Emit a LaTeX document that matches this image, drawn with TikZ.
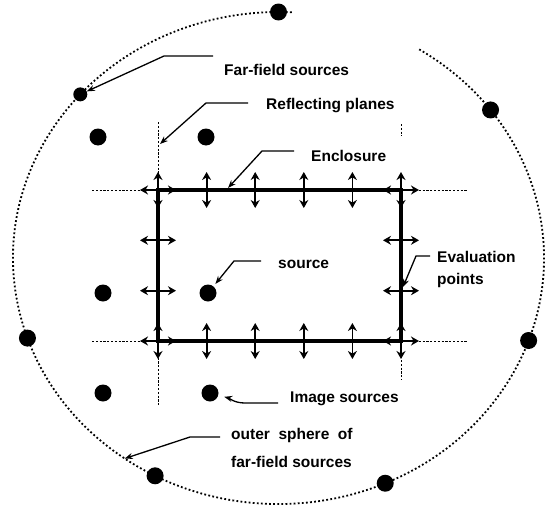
\documentclass[tikz,border=0pt]{standalone}
\usepackage{fontspec}
\setmainfont{Liberation Sans}
\usetikzlibrary{positioning,arrows.meta,calc}

\begin{document}
\begin{tikzpicture}[x=1pt, y=-1pt,
    font=\bfseries\fontsize{15.5}{22}\selectfont,
    fuente/.style={circle, fill=black, inner sep=0pt, minimum size=17pt},
    esfera/.style={line width=1.8pt, dash pattern=on 1.8pt off 2.3pt},
    plano/.style={line width=0.9pt, dash pattern=on 2.2pt off 1.6pt},
    recinto/.style={line width=3.2pt},
    flecha/.style={line width=1.8pt, {Stealth[length=8pt,width=9pt]}-{Stealth[length=8pt,width=9pt]}},
    guia/.style={line width=1.3pt, -{Stealth[length=8pt,width=6pt]}},
    etiqueta/.style={anchor=west, inner sep=0pt, align=left}]
  \useasboundingbox (0,0) rectangle (549,506);
  % esfera exterior con las fuentes lejanas
  \coordinate (c) at (278.5,258);
  \draw[esfera] ($(c)+(302:265.5 and 246)$)
    arc[start angle=302, end angle=633, x radius=265.5, y radius=246];
  \node[fuente] (ff1) at ($(c)+(270:265.5 and 246)$) {};
  \node[fuente, minimum size=14pt] (ff2) at ($(c)+(221.7:265.5 and 246)$) {};
  \node[fuente] (ff3) at ($(c)+(323:265.5 and 246)$) {};
  \node[fuente] (ff4) at ($(c)+(161:265.5 and 246)$) {};
  \node[fuente] (ff5) at ($(c)+(19.6:265.5 and 246)$) {};
  \node[fuente] (ff6) at ($(c)+(117.7:265.5 and 246)$) {};
  \node[fuente] (ff7) at ($(c)+(66.3:265.5 and 246)$) {};
  \coordinate (pesf) at ($(c)+(125.4:265.5 and 246)$);
  % planos reflectantes
  \draw[plano] (92,190) -- (467,190);
  \draw[plano] (92,341) -- (467,341);
  \draw[plano] (158,122) -- (158,405);
  \draw[plano] (401,124) -- (401,136);
  \draw[plano] (401,341) -- (401,380);
  % recinto y puntos de evaluacion
  \draw[recinto] (158,190) rectangle (401,341);
  \foreach \x/\y in {158/190, 401/190, 158/341, 401/341}{
    \draw[flecha] (\x-18,\y) -- (\x+18,\y);
    \draw[flecha] (\x,\y-18) -- (\x,\y+18);
  }
  \foreach \x in {206.6, 255.2, 303.8, 352.4}{
    \draw[flecha] (\x,172) -- (\x,208);
    \draw[flecha] (\x,323) -- (\x,359);
  }
  \foreach \y in {240.3, 290.7}{
    \draw[flecha] (140,\y) -- (176,\y);
    \draw[flecha] (383,\y) -- (419,\y);
  }
  \coordinate (ppl) at (160,144);
  \coordinate (penc) at (228,188);
  \coordinate (pev) at (403,287);
  % fuente y fuentes imagen
  \node[fuente] (im1) at (98,137) {};
  \node[fuente] (im2) at (206,137) {};
  \node[fuente] (im3) at (103,293) {};
  \node[fuente] (src) at (208,293) {};
  \node[fuente] (im5) at (103,393) {};
  \node[fuente] (im6) at (210,393) {};
  % etiquetas
  \node[etiqueta] (tff) at (224,70) {Far-field sources};
  \node[etiqueta] (tpl) at (266,106) {Reflecting planes};
  \node[etiqueta] (tenc) at (311,156) {Enclosure};
  \node[etiqueta] (tsrc) at (278,264) {source};
  \node[etiqueta] (tev) at (437,269) {Evaluation\\points};
  \node[etiqueta] (tim) at (290,399) {Image sources};
  \node[etiqueta] (tout) at (231,448) {outer\ \ sphere\ \ of\\[6pt]far-field sources};
  \draw[guia] ($(tff.west)+(-11,-14)$) -- ++(-49,0) -- (ff2);
  \draw[guia] ($(tpl.west)+(-18,-3)$) -- ++(-42,0) -- (ppl);
  \draw[guia] ($(tenc.west)+(-17,-5)$) -- ++(-32,0) -- (penc);
  \draw[guia, shorten >=3pt] ($(tsrc.west)+(-17,-3)$) -- ++(-27,0) -- (src);
  \draw[guia] ($(tev.west)+(-7,-13)$) -- ++(-14,0) -- (pev);
  \draw[guia, shorten >=6pt] ($(tim.west)+(-12,4)$) -- ++(-33,0) to[out=180, in=-15] (im6);
  \draw[guia] ($(tout.west)+(-11,-11)$) -- ++(-30,0) -- (pesf);
\end{tikzpicture}
\end{document}
